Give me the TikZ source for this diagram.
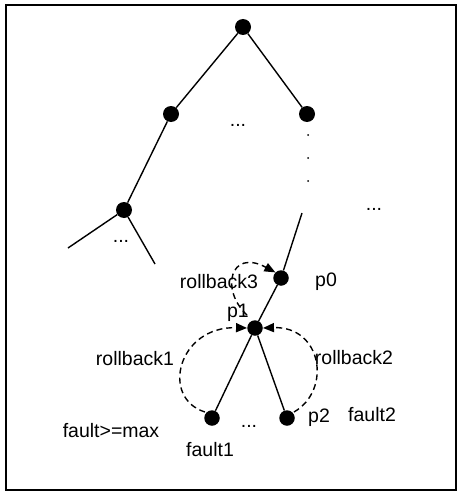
\documentclass[tikz,border=0pt]{standalone}
\usepackage{fontspec}
\setmainfont{Liberation Sans}
\usetikzlibrary{arrows.meta}
\begin{document}
\begin{tikzpicture}[x=1pt,y=-1pt,
  dot/.style={circle,fill=black,inner sep=0pt,minimum size=16pt},
  sdot/.style={circle,fill=black,inner sep=0pt,minimum size=15.5pt},
  edge/.style={line width=1.4pt},
  rb/.style={line width=1.4pt,dash pattern=on 6pt off 4pt,-{Triangle[length=11pt,width=9pt]}},
  lbl/.style={inner sep=0pt,font=\fontsize{19.5}{21}\selectfont},
  tiny/.style={circle,fill=black,inner sep=0pt,minimum size=2pt}]
\useasboundingbox (0,0) rectangle (461,495);
\draw[line width=1.6pt] (6,5) rectangle (456,490);
% tree
\node[dot] (root) at (243,27) {};
\node[dot] (l) at (171,114) {};
\node[dot] (r) at (307,114) {};
\node[dot] (ll) at (124,210) {};
\coordinate (lla) at (68,248);
\coordinate (llb) at (155,264);
\coordinate (top) at (302,213);
\node[sdot] (p0) at (281,278) {};
\node[sdot] (p1) at (255,328) {};
\node[sdot] (f1) at (212,418) {};
\node[sdot] (p2) at (287,418) {};
\draw[edge] (root) -- (l);
\draw[edge] (root) -- (r);
\draw[edge] (l) -- (ll);
\draw[edge] (ll) -- (lla);
\draw[edge] (ll) -- (llb);
\draw[edge] (top) -- (p0);
\draw[edge] (p0) -- (p1);
\draw[edge] (p1) -- (f1);
\draw[edge] (p1) -- (p2);
% vertical dots
\node[tiny] (v1) at (308,135) {};
\node[tiny] (v2) at (308,158) {};
\node[tiny] (v3) at (308,181) {};
% ellipses
\node[lbl] (e1) at (238,125) {...};
\node[lbl] (e2) at (121,241) {...};
\node[lbl] (e3) at (374,209) {...};
\node[lbl] (e4) at (249,426) {...};
% rollbacks
\coordinate (r3s) at (247,315);
\draw[rb] (r3s) .. controls (220,290) and (230,248) .. (p0.north west);
\coordinate (r1s) at (205,412);
\draw[rb] (r1s) .. controls (160,398) and (178,326) .. (p1.west);
\coordinate (r2s) at (294,412);
\draw[rb] (r2s) .. controls (332,390) and (322,326) .. (p1.east);
% labels
\node[lbl] (t3) at (219,282) {rollback3};
\node[lbl] (tp0) at (326,282) {p0};
\node[lbl] (tp1) at (238,313) {p1};
\node[lbl] (t1) at (135,359) {rollback1};
\node[lbl] (t2) at (354,358) {rollback2};
\node[lbl] (tfm) at (111,431) {fault>=max};
\node[lbl] (tf1) at (210,450) {fault1};
\node[lbl] (tp2) at (319,418) {p2};
\node[lbl] (tf2) at (372,415) {fault2};
\end{tikzpicture}
\end{document}
